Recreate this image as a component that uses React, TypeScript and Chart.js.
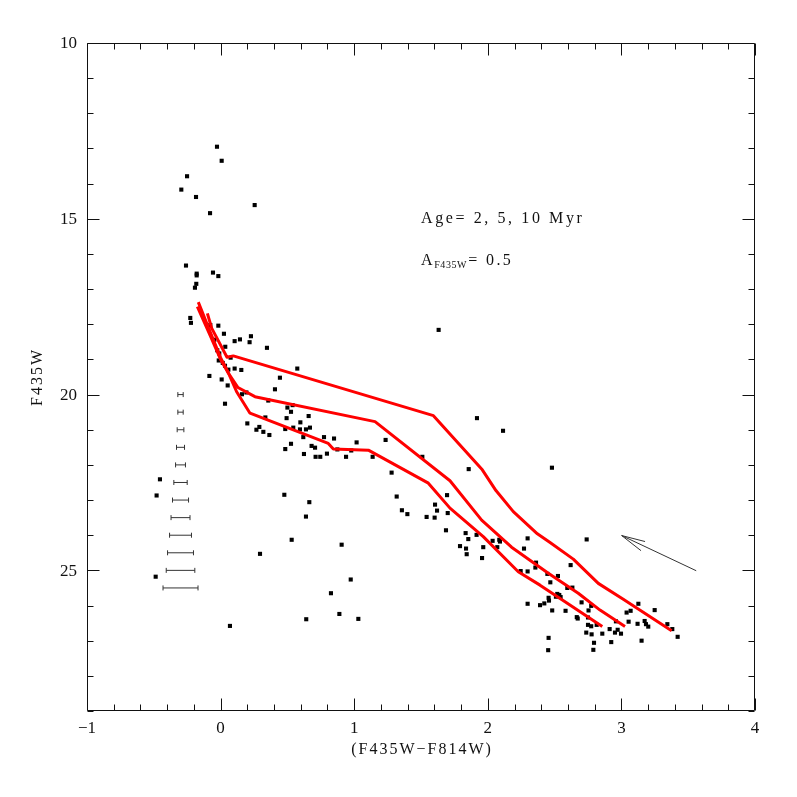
import React, { useEffect, useRef } from "react";
import { Chart, registerables } from "chart.js";

Chart.register(...registerables);

// ---- axes ----
const xMin = -1;
const xMax = 4;
const yMin = 10;
const yMax = 29;
const xTickLabels = [-1, 0, 1, 2, 3, 4];
const xMinorStep = 0.2;
const yTickLabels = [10, 15, 20, 25];
const yMinorStep = 1;
const xTitle = "(F435W\u2212F814W)";
const yTitle = "F435W";
const ageText = "Age= 2, 5, 10 Myr";
const extA = "A";
const extSub = "F435W";
const extValue = "= 0.5";

// ---- observed stars: colour (F435W-F814W) and magnitude F435W ----
const starColor = [
  -0.027, 0.008, -0.251, -0.294, -0.184, 0.255, -0.079, -0.259, -0.179, -0.179, -0.057, -0.017, -0.182, -0.192,
  -0.227, -0.222, -0.077, -0.017, 0.025, -0.047, 0.145, 0.105, 0.227, 0.217, 0.347, 0.035, -0.025, -0.01, 0.075,
  -0.014, 0.016, 0.033, 0.058, 0.105, 0.155, -0.084, 0.008, 0.053, 0.574, 0.444, 0.407, 1.632, 0.193, 0.16, 0.357,
  0.033, 0.5, 0.539, 0.527, 0.659, 0.494, 0.597, 0.2, 0.335, 0.29, 0.268, 0.32, 0.365, 0.484, 0.544, 0.594, 0.639,
  0.669, 0.619, 0.527, 0.484, 0.681, 0.707, 0.774, 0.849, 0.624, 0.711, 0.746, 0.796, 0.939, 0.874, 0.978, 1.018,
  1.138, 1.235, 1.28, 1.51, 1.318, 0.477, 0.664, 0.639, 0.532, 0.906, 0.295, 0.974, 0.826, 0.889, 0.641, 1.031,
  0.07, 1.357, 1.398, 1.542, 1.602, 1.605, 1.62, 1.695, 1.7, 1.687, 1.792, 1.919, 2.114, 1.857, 2.48, 1.834, 1.854,
  1.837, 1.842, 1.916, 1.966, 1.957, 2.036, 2.086, 2.091, 2.071, 2.298, 2.271, 2.74, 2.246, 2.298, 2.361, 2.356,
  2.62, 2.446, 2.525, 2.468, 2.595, 2.633, 2.52, 2.535, 2.545, 2.51, 2.455, 2.458, 2.423, 2.391, 2.298, 2.482,
  2.582, 2.702, 2.774, 2.754, 2.666, 2.673, 2.75, 2.75, 2.774, 2.815, 2.737, 2.777, 2.795, 2.79, 2.455, 2.452,
  3.127, 3.069, 3.039, 3.249, 3.054, 3.121, 3.174, 3.184, 3.201, 3.344, 3.381, 3.421, 3.151, 2.912, 2.972, 2.952,
  2.997, 2.857, 2.924, 2.959, -0.454, -0.479, -0.486,
];
const starMag = [
  12.95, 13.35, 13.79, 14.17, 14.38, 14.61, 14.84, 16.33, 16.56, 16.61, 16.53, 16.63, 16.85, 16.96,
  17.82, 17.96, 18.02, 18.04, 18.27, 18.44, 18.43, 18.48, 18.34, 18.51, 18.67, 18.64, 18.74, 18.83, 18.95,
  19.03, 19.1, 19.18, 19.29, 19.26, 19.3, 19.47, 19.57, 19.74, 19.26, 19.52, 19.85, 18.16, 19.94, 19.99, 20.17,
  20.26, 20.37, 20.3, 20.49, 20.61, 20.67, 20.79, 20.82, 20.65, 20.92, 21.0, 21.06, 21.15, 20.98, 20.94, 20.99, 20.99,
  20.94, 21.21, 21.4, 21.55, 21.46, 21.51, 21.21, 21.25, 21.69, 21.77, 21.77, 21.68, 21.77, 21.56, 21.59, 21.36,
  21.77, 21.29, 22.22, 21.77, 22.9, 22.85, 23.06, 23.47, 24.13, 24.27, 24.53, 25.26, 25.65, 26.24, 26.39, 26.38,
  26.58, 23.29, 23.4, 23.48, 23.5, 23.13, 23.3, 22.86, 23.37, 23.86, 24.31, 20.67, 21.03, 22.12, 22.08, 23.94, 24.11,
  24.38, 24.54, 23.99, 24.34, 24.65, 24.16, 24.13, 24.18, 24.34, 24.09, 24.38, 24.12, 25.02, 25.03, 24.78, 24.92,
  24.85, 25.1, 25.16, 25.34, 25.5, 25.49, 25.67, 25.7, 25.76, 25.75, 25.78, 25.86, 25.94, 25.99, 25.95, 26.14,
  26.15, 25.91, 26.01, 26.14, 26.33, 26.37, 26.34, 26.55, 26.59, 26.55, 26.77, 26.82, 27.06, 27.26, 26.92, 27.27,
  25.95, 26.15, 26.2, 26.13, 26.46, 26.52, 26.44, 26.53, 26.6, 26.53, 26.67, 26.89, 27.0, 26.67, 26.69, 26.77,
  26.8, 26.8, 27.04, 26.45, 22.41, 22.87, 25.18,
];

// ---- isochrones ----
const iso2Color = [-0.099, -0.067, 0.048, 0.095, 1.593, 1.959, 2.061, 2.191, 2.371, 2.466, 2.64, 2.827, 3.014, 3.376];
const iso2Mag = [17.69, 18.11, 18.94, 18.9, 20.6, 22.14, 22.73, 23.33, 23.96, 24.21, 24.68, 25.37, 25.82, 26.72];

const iso5Color = [-0.167, -0.08, 0.0, 0.06, 0.13, 0.257, 1.156, 1.717, 1.954, 2.178, 2.453, 2.677, 2.84, 3.027];
const iso5Mag = [17.37, 18.2, 18.95, 19.4, 19.8, 20.06, 20.77, 22.45, 23.57, 24.34, 25.08, 25.65, 26.13, 26.6];

const iso10Color = [-0.174, -0.08, 0.0, 0.06, 0.12, 0.22, 0.806, 0.844, 1.106, 1.555, 1.717, 1.966, 2.228, 2.391, 2.578, 2.857];
const iso10Mag = [17.5, 18.3, 19.0, 19.4, 19.92, 20.53, 21.39, 21.55, 21.58, 22.52, 23.23, 24.04, 25.04, 25.42, 25.89, 26.6];

// ---- photometric error bars ----
const errCenter = -0.3;
const errMag = [20, 20.5, 21, 21.5, 22, 22.5, 23, 23.5, 24, 24.5, 25, 25.5];
const errHalf = [0.02, 0.02, 0.025, 0.03, 0.037, 0.05, 0.06, 0.071, 0.082, 0.097, 0.107, 0.131];

// ---- reddening arrow ----
const arrowColor = [3.56, 3.002];
const arrowMag = [25.01, 24.01];
const arrowHeadColor = [3.177, 3.002, 3.147];
const arrowHeadMag = [24.18, 24.01, 24.44];

const zip = (xs: number[], ys: number[]) => xs.map((x, i) => ({ x, y: ys[i] }));

const FONT = "'Liberation Serif', 'Times New Roman', serif";

const framePlugin = {
  id: "pgframe",
  afterDraw(chart: any) {
    const { ctx, chartArea: a, scales } = chart;
    const xs = scales.x;
    const ys = scales.y;
    const L = Math.round(a.left) + 0.5;
    const R = Math.round(a.right) - 0.5;
    const T = Math.round(a.top) + 0.5;
    const B = Math.round(a.bottom) - 0.5;
    ctx.save();
    ctx.strokeStyle = "#111";
    ctx.lineWidth = 1;
    ctx.beginPath();
    ctx.rect(L, T, R - L, B - T);
    const nx = Math.round((xMax - xMin) / xMinorStep);
    for (let i = 0; i <= nx; i++) {
      const v = xMin + i * xMinorStep;
      const major = xTickLabels.some((t) => Math.abs(t - v) < 1e-6);
      const len = major ? 12 : 6;
      const p = Math.round(xs.getPixelForValue(v)) + 0.5;
      ctx.moveTo(p, B);
      ctx.lineTo(p, B - len);
      ctx.moveTo(p, T);
      ctx.lineTo(p, T + len);
    }
    const ny = Math.round((yMax - yMin) / yMinorStep);
    for (let i = 0; i <= ny; i++) {
      const v = yMin + i * yMinorStep;
      const major = yTickLabels.some((t) => Math.abs(t - v) < 1e-6);
      const len = major ? 12 : 6;
      const p = Math.round(ys.getPixelForValue(v)) + 0.5;
      ctx.moveTo(L, p);
      ctx.lineTo(L + len, p);
      ctx.moveTo(R, p);
      ctx.lineTo(R - len, p);
    }
    ctx.stroke();

    ctx.fillStyle = "#111";
    ctx.font = `17px ${FONT}`;
    (ctx as any).letterSpacing = "0px";
    ctx.textBaseline = "alphabetic";
    ctx.textAlign = "center";
    xTickLabels.forEach((v) => {
      const label = v < 0 ? "\u2212" + Math.abs(v) : String(v);
      ctx.fillText(label, xs.getPixelForValue(v), a.bottom + 22);
    });
    ctx.textAlign = "right";
    ctx.textBaseline = "middle";
    yTickLabels.forEach((v) => {
      ctx.fillText(String(v), a.left - 10, ys.getPixelForValue(v) + 1);
    });

    ctx.font = `16px ${FONT}`;
    (ctx as any).letterSpacing = "2px";
    ctx.textAlign = "center";
    ctx.textBaseline = "alphabetic";
    ctx.fillText(xTitle, (a.left + a.right) / 2 + 1, a.bottom + 43);
    ctx.save();
    ctx.translate(a.left - 45, (a.top + a.bottom) / 2);
    ctx.rotate(-Math.PI / 2);
    ctx.fillText(yTitle, 0, 0);
    ctx.restore();

    ctx.textAlign = "left";
    (ctx as any).letterSpacing = "2.6px";
    ctx.font = `16px ${FONT}`;
    ctx.fillText(ageText, 421, 223);
    ctx.fillText(extA, 421, 265);
    const wA = ctx.measureText(extA).width;
    ctx.font = `10px ${FONT}`;
    (ctx as any).letterSpacing = "0.6px";
    ctx.fillText(extSub, 421 + wA - 1, 268);
    const wS = ctx.measureText(extSub).width;
    ctx.font = `16px ${FONT}`;
    (ctx as any).letterSpacing = "2.4px";
    ctx.fillText(extValue, 421 + wA + wS, 265);
    ctx.restore();
  },
};

export default function App() {
  const ref = useRef<HTMLCanvasElement | null>(null);
  useEffect(() => {
    if (!ref.current) return;
    const lineDs = (xs: number[], ys: number[]) => ({
      type: "line" as const,
      data: zip(xs, ys),
      showLine: true,
      borderColor: "#ff0000",
      borderWidth: 3,
      pointRadius: 0,
      tension: 0,
      fill: false,
      borderJoinStyle: "round" as const,
    });
    const errDs = errMag.map((m, i) => ({
      type: "line" as const,
      data: [
        { x: errCenter - errHalf[i], y: m },
        { x: errCenter + errHalf[i], y: m },
      ],
      showLine: true,
      borderColor: "#333",
      borderWidth: 1,
      pointStyle: "line" as const,
      pointRotation: 90,
      pointRadius: 2.5,
      pointBorderWidth: 1,
      pointBorderColor: "#333",
      fill: false,
    }));
    const chart = new Chart(ref.current, {
      type: "scatter",
      data: {
        datasets: [
          lineDs(iso2Color, iso2Mag),
          lineDs(iso5Color, iso5Mag),
          lineDs(iso10Color, iso10Mag),
          {
            type: "scatter",
            data: zip(starColor, starMag),
            pointStyle: "rect",
            pointRadius: 2.9,
            pointBackgroundColor: "#000",
            pointBorderWidth: 0,
            borderWidth: 0,
          } as any,
          ...errDs,
          {
            type: "line",
            data: zip(arrowColor, arrowMag),
            showLine: true,
            borderColor: "#333",
            borderWidth: 1,
            pointRadius: 0,
            fill: false,
          },
          {
            type: "line",
            data: zip(arrowHeadColor, arrowHeadMag),
            showLine: true,
            borderColor: "#333",
            borderWidth: 1,
            pointRadius: 0,
            fill: false,
          },
        ] as any,
      },
      options: {
        responsive: false,
        animation: false,
        devicePixelRatio: 1,
        layout: { padding: { left: 87, top: 43, right: 42, bottom: 86 } },
        scales: {
          x: { type: "linear", min: xMin, max: xMax, display: false },
          y: { type: "linear", min: yMin, max: yMax, reverse: true, display: false },
        },
        plugins: { legend: { display: false }, tooltip: { enabled: false } },
        events: [],
      },
      plugins: [framePlugin],
    });
    return () => chart.destroy();
  }, []);
  return (
    <div style={{ position: "absolute", left: 0, top: 0, width: 797, height: 797, background: "#fff" }}>
      <canvas ref={ref} width={797} height={797} style={{ display: "block" }} />
    </div>
  );
}
